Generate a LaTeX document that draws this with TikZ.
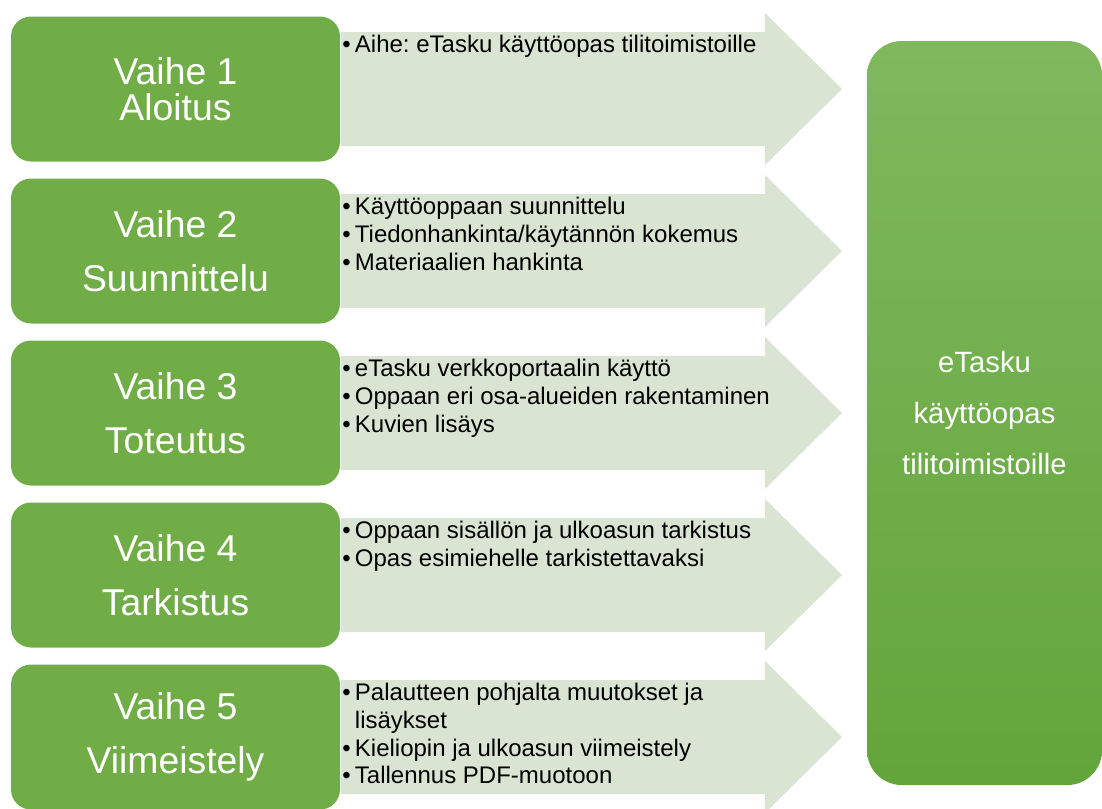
\documentclass[tikz,border=0pt]{standalone}
\usepackage{fontspec}
\setmainfont{Liberation Sans}
\usetikzlibrary{positioning}
\definecolor{phasegreen}{RGB}{112,173,71}
\definecolor{arrowgreen}{RGB}{217,228,210}
\definecolor{goaltop}{RGB}{128,184,94}
\definecolor{goalbottom}{RGB}{99,165,58}
\newcommand{\bul}{\makebox[9.5pt][l]{\textbullet}}
\frenchspacing

\begin{document}
\begin{tikzpicture}[x=0.75pt,y=-0.75pt,
    phase/.style={fill=phasegreen, rounded corners=15pt, minimum width=246.75pt,
        minimum height=108.75pt, text=white, align=center, inner sep=0pt},
    tasks/.style={anchor=north west, align=left, inner sep=0pt,
        font=\fontsize{18}{20.8}\selectfont},
    goal/.style={top color=goaltop, bottom color=goalbottom, rounded corners=26pt,
        minimum width=176.25pt, minimum height=558pt, text=white, align=center,
        font=\fontsize{22}{38.5}\selectfont}]
    \useasboundingbox (0,0) rectangle (1102,808);
    % phases with their arrows
    \foreach \i/\name/\lead/\items in {
        1/{Vaihe 1\\Aloitus}/27/{\bul Aihe: eTasku käyttöopas tilitoimistoille},
        2/{Vaihe 2\\Suunnittelu}/40.5/{\bul Käyttöoppaan suunnittelu\\\bul Tiedonhankinta/käytännön kokemus\\\bul Materiaalien hankinta},
        3/{Vaihe 3\\Toteutus}/40.5/{\bul eTasku verkkoportaalin käyttö\\\bul Oppaan eri osa-alueiden rakentaminen\\\bul Kuvien lisäys},
        4/{Vaihe 4\\Tarkistus}/40.5/{\bul Oppaan sisällön ja ulkoasun tarkistus\\\bul Opas esimiehelle tarkistettavaksi},
        5/{Vaihe 5\\Viimeistely}/40.5/{\bul Palautteen pohjalta muutokset ja\\\hspace*{9.5pt}lisäykset\\\bul Kieliopin ja ulkoasun viimeistely\\\bul Tallennus PDF-muotoon}} {
        \pgfmathsetmacro{\c}{89+162*(\i-1)}
        \fill[arrowgreen] (341,\c-57) -- (765,\c-57) -- (765,\c-76) -- (842,\c)
            -- (765,\c+76) -- (765,\c+57) -- (341,\c+57) -- cycle;
        \node[phase, font=\fontsize{28}{\lead}\selectfont] (phase\i) at (175.5,\c) {\name};
        \node[tasks] (tasks\i) at (342,\c-54) {\items};
    }
    % result
    \node[goal] (result) at (984.5,413) {eTasku\\käyttöopas\\tilitoimistoille};
\end{tikzpicture}
\end{document}
